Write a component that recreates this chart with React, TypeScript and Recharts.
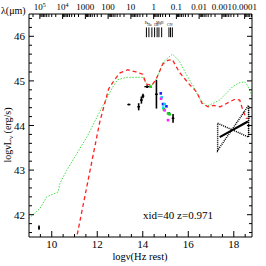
import { ComposedChart, Line, Scatter, XAxis, YAxis, ErrorBar, ReferenceLine } from "recharts";

// model templates (log nu, log nuLnu)
const redNu = [11.0, 12.11, 12.5, 12.75, 13.0, 13.34, 13.7, 14.0, 14.15, 14.4, 14.6, 14.88, 15.1, 15.3, 15.6, 16.0, 16.37, 16.6, 16.87, 17.1, 17.4, 17.82, 18.05, 18.26, 18.4, 18.55, 18.8];
const redL = [41.25, 44.08, 44.82, 45.02, 45.18, 45.25, 45.2, 45.15, 44.93, 44.9, 45.05, 45.38, 45.46, 45.48, 45.2, 44.95, 44.75, 44.5, 44.42, 44.45, 44.42, 44.53, 44.59, 44.57, 44.34, 44.16, 44.17];

const greenNu = [9.0, 9.48, 9.78, 10.28, 10.36, 10.65, 11.54, 12.3, 12.69, 12.9, 13.3, 14.0, 14.17, 14.4, 14.6, 14.9, 15.3, 15.6, 15.93, 16.2, 16.5, 16.8, 17.1, 17.38, 17.95, 18.2, 18.47, 18.6, 18.8];
const greenL = [41.92, 42.14, 42.4, 42.51, 42.7, 42.99, 43.74, 44.5, 44.87, 45.03, 45.08, 45.08, 44.93, 44.9, 45.05, 45.42, 45.6, 45.45, 45.13, 44.9, 44.6, 44.43, 44.5, 44.57, 44.87, 44.95, 44.98, 44.9, 44.66];

// photometry
const photNu = [9.44, 13.39, 13.82, 13.94, 14.01, 14.19, 14.6, 15.33];
const photL = [41.71, 44.47, 44.42, 44.57, 44.66, 44.87, 44.7, 44.16];
const photErrNu = [0, 0.07, 0.06, 0.06, 0.06, 0.12, 0.06, 0.06];
const photErrL = [0.05, 0.01, 0.08, 0.08, 0.05, 0.03, 0.32, 0.1];

const blueNu = [14.79, 14.89, 15.04, 15.15];
const blueL = [44.72, 44.48, 44.43, 44.27];
const cyanNu = [14.83, 14.96, 14.9];
const cyanL = [44.63, 44.48, 44.4];
const greenPtNu = [14.35, 14.93, 15.11, 15.18];
const greenPtL = [44.87, 44.36, 44.27, 44.25];
const magentaNu = [14.8, 14.96, 15.11];
const magentaL = [44.6, 44.34, 44.12];

// X-ray bowtie
const xrayNu = [17.38, 18.62];
const xrayL = [43.74, 44.09];
const bowNu = [17.29, 18.65, 18.65, 17.29, 17.29];
const bowL = [44.05, 43.74, 44.45, 43.44, 44.05];
const bowEdgeNu = [18.65, 18.65];
const bowEdgeL = [44.45, 43.74];

// emission line markers
const emLines = [14.16, 14.27, 14.4, 14.52, 14.63, 14.71, 14.83, 15.15, 15.22, 15.3];
const emLabels = ["Pa", "Ha", "Hb", "MgII", "CIV"];
const emLabelNu = [14.16, 14.3, 14.6, 14.75, 15.2];
const emLabelL = [46.28, 46.22, 46.22, 46.28, 46.22];

const xMajor = [10, 12, 14, 16, 18];
const yMajor = [42, 43, 44, 45, 46];
const lambdaLabels = ["10^5", "10^4", "1000", "100", "10", "1", "0.1", "0.01", "0.001", "0.0001"];
const lambdaLog = [5, 4, 3, 2, 1, 0, -1, -2, -3, -4];

const XMIN = 9;
const XMAX = 18.8;
const YMIN = 41.5;
const YMAX = 46.5;
const LOGC = 14.4768; // log10(c in micron/s)

const pts = (xs: number[], ys: number[]) => xs.map((x, i) => ({ x, y: ys[i] }));

const xTicks: number[] = [];
for (let v = 9.5; v <= 18.5; v += 0.5) xTicks.push(Math.round(v * 10) / 10);
const yTicks: number[] = [];
for (let v = 41.6; v <= 46.41; v += 0.2) yTicks.push(Math.round(v * 10) / 10);
const topTicks: number[] = [];
for (let n = -5; n <= 5; n++) {
  for (let k = 1; k <= 9; k++) {
    const v = LOGC - (n + Math.log10(k));
    if (v > XMIN && v < XMAX) topTicks.push(v);
  }
}

const isMajor = (v: number, majors: number[]) => majors.some((m) => Math.abs(m - v) < 1e-6);
const FONT = "'Liberation Serif', serif";

const LeftTick = (props: any) => {
  const { x, y, payload } = props;
  const major = isMajor(payload.value, yMajor);
  return (
    <g>
      <line x1={x} y1={y} x2={x + (major ? 5 : 3)} y2={y} stroke="#000" />
      {major && (
        <text x={x - 4} y={y + 4} textAnchor="end" fontSize={11} fontFamily={FONT} fill="#000">
          {payload.value}
        </text>
      )}
    </g>
  );
};

const RightTick = (props: any) => {
  const { x, y, payload } = props;
  const major = isMajor(payload.value, yMajor);
  return <line x1={x} y1={y} x2={x - (major ? 5 : 3)} y2={y} stroke="#000" />;
};

const BottomTick = (props: any) => {
  const { x, y, payload } = props;
  const major = isMajor(payload.value, xMajor);
  return (
    <g>
      <line x1={x} y1={y} x2={x} y2={y - (major ? 6 : 3)} stroke="#000" />
      {major && (
        <text x={x} y={y + 11} textAnchor="middle" fontSize={11} fontFamily={FONT} fill="#000">
          {payload.value}
        </text>
      )}
    </g>
  );
};

const TopTick = (props: any) => {
  const { x, y, payload } = props;
  const idx = lambdaLog.findIndex((n) => Math.abs(LOGC - n - payload.value) < 1e-6);
  const major = idx >= 0;
  const lab = major ? lambdaLabels[idx] : "";
  return (
    <g>
      <line x1={x} y1={y} x2={x} y2={y + (major ? 5 : 3)} stroke="#000" />
      {major && (
        <text x={x} y={y - 4} textAnchor="middle" fontSize={9} fontFamily={FONT} fill="#000">
          {lab.includes("^") ? (
            <>
              {lab.split("^")[0]}
              <tspan dy={-3} fontSize={6}>
                {lab.split("^")[1]}
              </tspan>
            </>
          ) : (
            lab
          )}
        </text>
      )}
    </g>
  );
};

const Square = (color: string) => (props: any) => {
  const { cx, cy } = props;
  return <rect x={cx - 1.3} y={cy - 1.3} width={2.6} height={2.6} fill={color} />;
};

const Dot = (props: any) => <circle cx={props.cx} cy={props.cy} r={1} fill="#000" />;

const EmText = (props: any) => (
  <text x={props.cx} y={props.cy} textAnchor="middle" fontSize={3.5} fontFamily={FONT} fill="#000">
    {props.payload.t}
  </text>
);

export default function App() {
  const phot = photNu.map((x, i) => ({ x, y: photL[i], ex: photErrNu[i], ey: photErrL[i] }));
  const emText = emLabels.map((t, i) => ({ x: emLabelNu[i], y: emLabelL[i], t }));
  const ax = { xAxisId: "bottom", yAxisId: "left" };
  return (
    <div style={{ position: "absolute", left: 0, top: 0, width: 266, height: 266, background: "#fff" }}>
      <ComposedChart width={266} height={266} margin={{ top: 0, right: 0, bottom: 0, left: 0 }}>
        <XAxis
          xAxisId="bottom"
          type="number"
          dataKey="x"
          domain={[XMIN, XMAX]}
          allowDataOverflow
          ticks={xTicks}
          interval={0}
          height={29}
          tickSize={0}
          tickMargin={0}
          tickLine={false}
          tick={<BottomTick />}
          axisLine={{ stroke: "#000" }}
        />
        <XAxis
          xAxisId="top"
          orientation="top"
          type="number"
          dataKey="x"
          domain={[XMIN, XMAX]}
          allowDataOverflow
          ticks={topTicks}
          interval={0}
          height={14}
          tickSize={0}
          tickMargin={0}
          tickLine={false}
          tick={<TopTick />}
          axisLine={{ stroke: "#000" }}
        />
        <YAxis
          yAxisId="left"
          type="number"
          domain={[YMIN, YMAX]}
          allowDataOverflow
          ticks={yTicks}
          interval={0}
          width={29}
          tickSize={0}
          tickMargin={0}
          tickLine={false}
          tick={<LeftTick />}
          axisLine={{ stroke: "#000" }}
        />
        <YAxis
          yAxisId="right"
          orientation="right"
          type="number"
          domain={[YMIN, YMAX]}
          allowDataOverflow
          ticks={yTicks}
          interval={0}
          width={14}
          tickSize={0}
          tickMargin={0}
          tickLine={false}
          tick={<RightTick />}
          axisLine={{ stroke: "#000" }}
        />

        <Line {...ax} data={pts(greenNu, greenL)} dataKey="y" stroke="#44e044" strokeWidth={1} strokeDasharray="1.5 1.5" dot={false} isAnimationActive={false} />
        <Line {...ax} data={pts(redNu, redL)} dataKey="y" stroke="#ff2020" strokeWidth={1.3} strokeDasharray="4 3" dot={false} isAnimationActive={false} />

        <Line {...ax} data={pts(bowEdgeNu, bowEdgeL)} dataKey="y" stroke="#999" strokeWidth={1.2} dot={false} isAnimationActive={false} />
        <Line {...ax} data={pts(bowNu, bowL)} dataKey="y" stroke="#000" strokeWidth={1.5} strokeDasharray="1 1" dot={false} isAnimationActive={false} />
        <Line {...ax} data={pts(xrayNu, xrayL)} dataKey="y" stroke="#000" strokeWidth={2.2} dot={false} isAnimationActive={false} />

        {emLines.map((v) => (
          <ReferenceLine key={v} {...ax} segment={[{ x: v, y: 46.2 }, { x: v, y: 45.98 }]} stroke="#000" strokeWidth={1} />
        ))}
        <Scatter {...ax} data={emText} dataKey="y" shape={EmText} isAnimationActive={false} />

        <Scatter {...ax} data={phot} dataKey="y" shape={Dot} isAnimationActive={false}>
          <ErrorBar dataKey="ey" direction="y" width={0} stroke="#000" strokeWidth={1.6} />
          <ErrorBar dataKey="ex" direction="x" width={0} stroke="#000" strokeWidth={1.3} />
        </Scatter>
        <Scatter {...ax} data={pts(blueNu, blueL)} dataKey="y" shape={Square("#1a1aff")} isAnimationActive={false} />
        <Scatter {...ax} data={pts(cyanNu, cyanL)} dataKey="y" shape={Square("#00d8e8")} isAnimationActive={false} />
        <Scatter {...ax} data={pts(greenPtNu, greenPtL)} dataKey="y" shape={Square("#22cc22")} isAnimationActive={false} />
        <Scatter {...ax} data={pts(magentaNu, magentaL)} dataKey="y" shape={Square("#ff22ff")} isAnimationActive={false} />
      </ComposedChart>
      <svg width={266} height={266} style={{ position: "absolute", left: 0, top: 0, pointerEvents: "none" }}>
        <text x={1} y={14} fontSize={10} fontFamily={FONT} fill="#000">λ(μm)</text>
        <text x={140} y={260} textAnchor="middle" fontSize={10.5} fontFamily={FONT} fill="#000">logν(Hz rest)</text>
        <text x={178} y={219} textAnchor="middle" fontSize={11} fontFamily={FONT} fill="#000">xid=40 z=0.971</text>
        <text transform="translate(11,135) rotate(-90)" textAnchor="middle" fontSize={10} fontFamily={FONT} fill="#000">
          logνL<tspan dy={2} fontSize={7}>ν</tspan>
          <tspan dy={-2}> (erg/s)</tspan>
        </text>
      </svg>
    </div>
  );
}
